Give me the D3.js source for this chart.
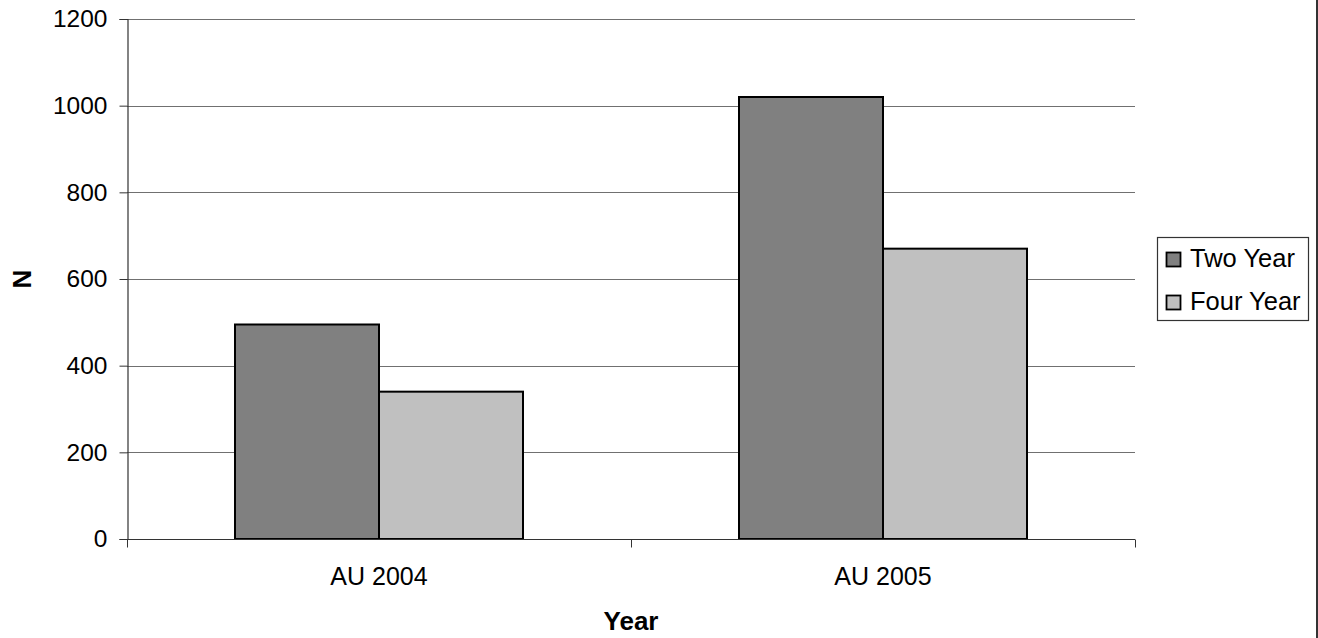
<!DOCTYPE html>
<html>
<head>
<meta charset="utf-8">
<script src="https://cdn.jsdelivr.net/npm/d3@7"></script>
<style>
  html, body { margin: 0; padding: 0; background: #fff; }
  svg { display: block; font-family: "Liberation Sans", Arial, sans-serif; }
</style>
</head>
<body>
<svg id="chart" width="1318" height="638"></svg>
<script>
const categories = ["AU 2004", "AU 2005"];
const seriesNames = ["Two Year", "Four Year"];
const twoYear = [495, 1020];
const fourYear = [340, 670];
const yTicks = [0, 200, 400, 600, 800, 1000, 1200];
const colors = ["#808080", "#C0C0C0"];

const svg = d3.select("#chart");
const plot = { left: 127, right: 1135, top: 19, bottom: 539 };

const x = d3.scaleBand().domain(categories).range([plot.left, plot.right]).padding(0);
const y = d3.scaleLinear().domain([0, 1200]).range([plot.bottom, plot.top]);
// bars: gap width 150% -> each bar = band / (2 + 1.5)
const inner = d3.scaleBand().domain(seriesNames)
  .range([0, x.bandwidth()]).paddingInner(0).paddingOuter(0.75);

// gridlines
svg.append("g").selectAll("line").data(yTicks.filter(d => d > 0)).join("line")
  .attr("x1", plot.left).attr("x2", plot.right)
  .attr("y1", d => Math.round(y(d)) + 0.5).attr("y2", d => Math.round(y(d)) + 0.5)
  .attr("stroke", "#707070").attr("stroke-width", 1.2);

// y axis
const yAxis = d3.axisLeft(y).tickValues(yTicks).tickSize(8).tickPadding(12).tickFormat(d3.format("d"));
const gy = svg.append("g").attr("transform", `translate(${plot.left + 0.5},0)`).call(yAxis);
gy.select(".domain").attr("stroke", "#333").attr("stroke-width", 1.2);
gy.selectAll(".tick line").attr("stroke", "#333");
gy.selectAll(".tick text").attr("font-size", 24.5).attr("fill", "#000")
  .attr("font-family", "Liberation Sans, Arial, sans-serif");

// bars
const data = categories.map((c, i) => ({ cat: c, vals: [twoYear[i], fourYear[i]] }));
const groups = svg.append("g").selectAll("g").data(data).join("g")
  .attr("transform", d => `translate(${x(d.cat)},0)`);
groups.selectAll("rect").data(d => d.vals.map((v, j) => ({ v, s: seriesNames[j], j })))
  .join("rect")
  .attr("x", d => inner(d.s))
  .attr("width", inner.bandwidth())
  .attr("y", d => y(d.v))
  .attr("height", d => y(0) - y(d.v))
  .attr("fill", d => colors[d.j])
  .attr("stroke", "#000").attr("stroke-width", 2);

// x axis
const xAxisScale = d3.scaleLinear().domain([0, categories.length]).range([plot.left, plot.right]);
const gx = svg.append("g").attr("transform", `translate(0,${plot.bottom + 0.5})`);
gx.append("line").attr("x1", plot.left).attr("x2", plot.right).attr("stroke", "#333").attr("stroke-width", 1.2);
gx.selectAll("line.tk").data(d3.range(categories.length + 1)).join("line").attr("class", "tk")
  .attr("x1", d => Math.round(xAxisScale(d)) + 0.5).attr("x2", d => Math.round(xAxisScale(d)) + 0.5)
  .attr("y1", 0).attr("y2", 8).attr("stroke", "#333");
gx.selectAll("text").data(categories).join("text")
  .attr("x", d => x(d) + x.bandwidth() / 2).attr("y", 45)
  .attr("text-anchor", "middle").attr("font-size", 25).text(d => d);

// axis titles
svg.append("text").attr("x", 631).attr("y", 630).attr("text-anchor", "middle")
  .attr("font-size", 26).attr("font-weight", "bold").text("Year");
svg.append("text").attr("transform", `translate(31,279) rotate(-90)`).attr("text-anchor", "middle")
  .attr("font-size", 26).attr("font-weight", "bold").text("N");

// legend
const lg = svg.append("g");
lg.append("rect").attr("x", 1157.5).attr("y", 237.5).attr("width", 151).attr("height", 83)
  .attr("fill", "#fff").attr("stroke", "#333").attr("stroke-width", 1.2);
const items = lg.selectAll("g").data(seriesNames).join("g")
  .attr("transform", (d, i) => `translate(1166,${252 + i * 43})`);
items.append("rect").attr("x", 0.5).attr("y", 0.5).attr("width", 14).attr("height", 14)
  .attr("fill", (d, i) => colors[i]).attr("stroke", "#000").attr("stroke-width", 1.8);
items.append("text").attr("x", 24).attr("y", 15).attr("font-size", 25.5).text(d => d);

// right border
svg.append("line").attr("x1", 1317).attr("x2", 1317).attr("y1", 0).attr("y2", 638)
  .attr("stroke", "#333").attr("stroke-width", 2);
</script>
</body>
</html>
